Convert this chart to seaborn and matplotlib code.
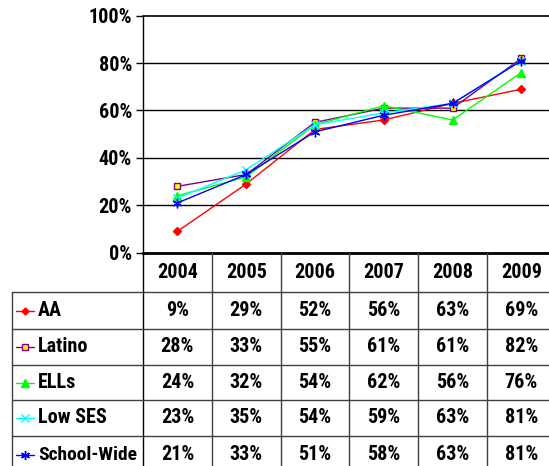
import matplotlib
matplotlib.use("Agg")
import matplotlib.pyplot as plt
from matplotlib import font_manager
import seaborn as sns
import pandas as pd

years = ["2004", "2005", "2006", "2007", "2008", "2009"]
groups = ["AA", "Latino", "ELLs", "Low SES", "School-Wide"]
aa = [9, 29, 52, 56, 63, 69]
latino = [28, 33, 55, 61, 61, 82]
ells = [24, 32, 54, 62, 56, 76]
low_ses = [23, 35, 54, 59, 63, 81]
school_wide = [21, 33, 51, 58, 63, 81]
yticks = [0, 20, 40, 60, 80, 100]

series = [aa, latino, ells, low_ses, school_wide]
colors = {"AA": "#FF0000", "Latino": "#800080", "ELLs": "#00FF00",
          "Low SES": "#00FFFF", "School-Wide": "#0000FF"}
markers = {"AA": "D", "Latino": "s", "ELLs": "^", "Low SES": "x",
           "School-Wide": (6, 2, 0)}
mfc = {"AA": "#FF0000", "Latino": "#FFFF00", "ELLs": "#00FF00",
       "Low SES": "#00FFFF", "School-Wide": "#0000FF"}
msize = {"AA": 4, "Latino": 5, "ELLs": 6, "Low SES": 6, "School-Wide": 7}

# pick a narrow bold font if available
bold_fams = {}
for f in font_manager.fontManager.ttflist:
    w = f.weight if isinstance(f.weight, int) else (700 if "bold" in str(f.weight) else 400)
    if w >= 700:
        bold_fams[f.name] = True
prefs = ["Arial Narrow", "Liberation Sans Narrow", "Roboto Condensed",
         "PT Sans Narrow", "Archivo Narrow", "Arimo Narrow",
         "Barlow Semi Condensed", "Fira Sans Condensed", "Asap Condensed"]
fam = "Liberation Sans"
for p in prefs:
    if p in bold_fams:
        fam = p
        break

sns.set_theme(style="white")
plt.rcParams["font.family"] = [fam, "DejaVu Sans"]
plt.rcParams["font.weight"] = "bold"
FW = 800

rows = []
for g, vals in zip(groups, series):
    for i, v in enumerate(vals):
        rows.append({"x": i, "year": years[i], "group": g, "value": v})
df = pd.DataFrame(rows)

W, H = 549, 466
fig = plt.figure(figsize=(W / 100, H / 100), dpi=100)
fig.patch.set_facecolor("white")

x0 = 143.0
colw = 68.8
ytop, ybot = 15.7, 252.7
ax = fig.add_axes([x0 / W, 1 - ybot / H, 6 * colw / W, (ybot - ytop) / H])
ax.set_facecolor("white")

sns.lineplot(data=df, x="x", y="value", hue="group", hue_order=groups,
             palette=colors, linewidth=1.0, legend=False, ax=ax, sort=False)
for line, g in zip(ax.get_lines(), groups):
    line.set_marker(markers[g])
    line.set_markersize(msize[g])
    line.set_markerfacecolor(mfc[g])
    line.set_markeredgecolor(colors[g])
    line.set_markeredgewidth(1.0)
    line.set_clip_on(False)

ax.set_xlim(-0.5, 5.5)
ax.set_ylim(0, 100)
ax.set_yticks(yticks)
ax.set_yticklabels([f"{t}%" for t in yticks], fontsize=14.5, fontweight=FW)
ax.set_xticks([])
ax.set_xlabel("")
ax.set_ylabel("")
for t in yticks[1:]:
    ax.axhline(t, color="black", linewidth=1.2 if t == 100 else 1.0, zorder=0.5,
               clip_on=False)
ax.tick_params(axis="y", direction="out", length=5, width=1, color="black",
               left=True, pad=3, labelcolor="black")
for s in ["top", "right"]:
    ax.spines[s].set_visible(False)
ax.spines["left"].set_color("black")
ax.spines["left"].set_linewidth(1.0)
ax.spines["bottom"].set_color("black")
ax.spines["bottom"].set_linewidth(2.0)

# data table
tab = fig.add_axes([0, 0, 1, 1])
tab.set_xlim(0, W)
tab.set_ylim(H, 0)
tab.axis("off")
tab.patch.set_alpha(0)

row_lines = [252.7, 292, 329, 365, 400, 435.5, 472]
lab_left = 11.5
tab.plot([x0, x0], [ybot, H], color="black", lw=1.0)
for i in range(1, 7):
    xv = x0 + i * colw
    tab.plot([xv, xv], [ybot, H], color="#404040", lw=1.0)
tab.plot([lab_left, lab_left], [row_lines[1], H], color="#404040", lw=1.0)
for k, yv in enumerate(row_lines[1:-1]):
    tab.plot([lab_left, W], [yv, yv], color="#404040", lw=1.0)

fs = 14.5
for i, yr in enumerate(years):
    tab.text(x0 + (i + 0.5) * colw, (row_lines[0] + row_lines[1]) / 2, yr,
             ha="center", va="center", fontsize=fs, fontweight=FW, color="black")

for r, (g, vals) in enumerate(zip(groups, series)):
    yc = (row_lines[r + 1] + row_lines[r + 2]) / 2
    if r == 4:
        yc = 455
    tab.plot([16, 34], [yc, yc], color=colors[g], lw=1.0)
    tab.plot([25], [yc], marker=markers[g], markersize=msize[g] - 0.5,
             markerfacecolor=mfc[g], markeredgecolor=colors[g], markeredgewidth=1.0)
    tab.text(38, yc, g, ha="left", va="center", fontsize=fs - 0.5 if r == 4 else fs,
             fontweight=FW, color="black")
    for i, v in enumerate(vals):
        tab.text(x0 + (i + 0.5) * colw, yc, f"{v}%", ha="center", va="center",
                 fontsize=fs, fontweight=FW, color="black")

fig.savefig("out.png", dpi=100, facecolor="white")
